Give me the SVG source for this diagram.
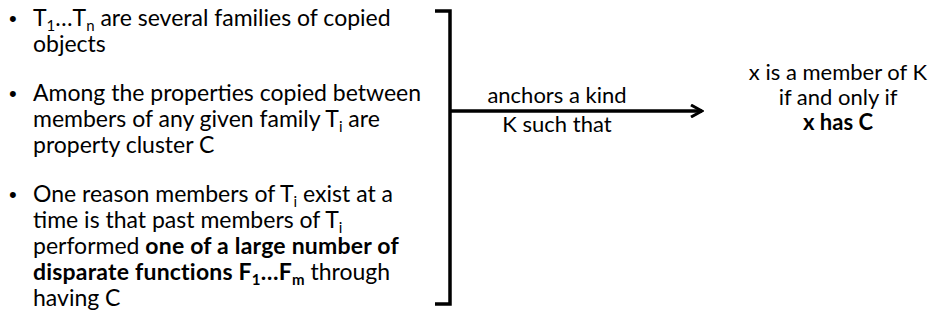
<svg xmlns="http://www.w3.org/2000/svg" width="935" height="321" viewBox="0 0 935 321">
<defs>
<style>
.t{font-family:Lato,"Liberation Sans",sans-serif;font-size:22px;fill:#000}
.l{font-size:23px}
.b{font-weight:bold}
.bl{font-weight:bold;letter-spacing:0.2px}
.bul{font-family:"Liberation Sans",Arial,sans-serif;font-size:22px;fill:#000}
.ln{fill:none;stroke:#000;stroke-width:3.5;stroke-linecap:butt}
.mid{text-anchor:middle}
</style>
<marker id="arr" viewBox="0 0 14 14" refX="12" refY="7" markerWidth="14" markerHeight="14" markerUnits="userSpaceOnUse" orient="auto">
<path d="M1,1 L12,7 L1,13" fill="none" stroke="#000" stroke-width="3"/>
</marker>
</defs>
<rect width="935" height="321" fill="#fff"/>
<g id="premises">
<g id="premise1">
<text class="bul" x="9" y="26">•</text>
<text class="t l" x="33" y="26">T<tspan font-size="15" dy="5">1</tspan><tspan dy="-5">…T</tspan><tspan font-size="15" dy="5">n</tspan><tspan dy="-5"> are several families of copied</tspan></text>
<text class="t l" x="33" y="52">objects</text>
</g>
<g id="premise2">
<text class="bul" x="9" y="101">•</text>
<text class="t l" x="33" y="101">Among the properties copied between</text>
<text class="t l" x="33" y="127">members of any given family T<tspan font-size="15" dy="5">i</tspan><tspan dy="-5"> are</tspan></text>
<text class="t l" x="33" y="153">property cluster C</text>
</g>
<g id="premise3">
<text class="bul" x="9" y="202">•</text>
<text class="t l" x="33" y="202">One reason members of T<tspan font-size="15" dy="5">i</tspan><tspan dy="-5"> exist at a</tspan></text>
<text class="t l" x="33" y="228">time is that past members of T<tspan font-size="15" dy="5">i</tspan></text>
<text class="t l" x="33" y="254">performed <tspan class="bl">one of a large number of</tspan></text>
<text class="t l" x="33" y="280"><tspan class="bl">disparate functions F</tspan><tspan class="bl" font-size="15" dy="5">1</tspan><tspan class="bl" dy="-5">…F</tspan><tspan class="bl" font-size="15" dy="5">m</tspan><tspan dy="-5"> through</tspan></text>
<text class="t l" x="33" y="306">having C</text>
</g>
</g>
<g id="connectors">
<path class="ln" d="M435,11 H450 V304 H435"/>
<path class="ln" d="M450,111 H702" marker-end="url(#arr)"/>
</g>
<g id="label">
<text class="t mid" x="557" y="103">anchors a kind</text>
<text class="t mid" x="557" y="132">K such that</text>
</g>
<g id="conclusion">
<text class="t mid" x="838" y="80">x is a member of K</text>
<text class="t mid" x="838" y="105">if and only if</text>
<text class="t mid b" x="838" y="130">x has C</text>
</g>
</svg>
